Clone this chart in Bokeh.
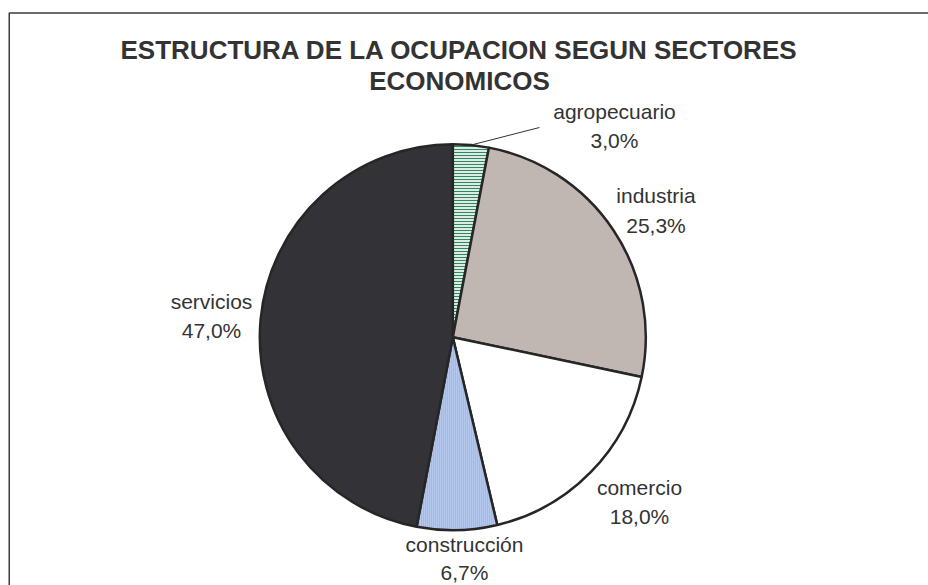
import math
from bokeh.plotting import figure
from bokeh.models import Range1d, ColumnDataSource
from bokeh.core.properties import value
from bokeh.embed import file_html
from bokeh.resources import INLINE

# ---- data ----
sectors = ["agropecuario", "industria", "comercio", "construcción", "servicios"]
shares = [3.0, 25.3, 18.0, 6.7, 47.0]
share_labels = ["3,0%", "25,3%", "18,0%", "6,7%", "47,0%"]
title_lines = ["ESTRUCTURA DE LA OCUPACION SEGUN SECTORES", "ECONOMICOS"]

# ---- styles ----
fills = ["#dcece4", "#c0b7b3", "#ffffff", "#b4c7ed", "#333337"]
hatches = ["horizontal_line", " ", " ", "vertical_line", " "]
hatch_colors = ["#1c7a52", "#000000", "#000000", "#90a7df", "#000000"]
hatch_scales = [3, 3, 3, 2, 3]

W, H = 928, 585
p = figure(width=W, height=H, output_backend="svg", toolbar_location=None,
           x_range=Range1d(0, W), y_range=Range1d(0, H), min_border=0)
p.axis.visible = False
p.grid.visible = False
p.outline_line_color = None
p.background_fill_color = "white"
p.border_fill_color = "white"

# frame of the chart area (left and top edges visible)
p.line([8.75, 8.75, W], [0, 572.5, 572.5], line_color="#3c3c3c", line_width=1.5)

cx, cy, r = 452.3, 248.3, 193

total = sum(shares)
starts, ends, mids = [], [], []
acc = 0.0
for s in shares:
    a0 = math.pi / 2 - 2 * math.pi * acc / total
    acc += s
    a1 = math.pi / 2 - 2 * math.pi * acc / total
    starts.append(a0)
    ends.append(a1)
    mids.append((a0 + a1) / 2)

src = ColumnDataSource(dict(start=starts, end=ends, fill=fills, hatch=hatches,
                            hcol=hatch_colors, hscale=hatch_scales, sector=sectors))
p.wedge(x=cx, y=cy, radius=r, start_angle="start", end_angle="end",
        direction="clock", source=src, fill_color="fill",
        hatch_pattern="hatch", hatch_color="hcol", hatch_scale="hscale", hatch_weight=0.9,
        line_color="#262626", line_width=2.5)

# leader line for the small slice
lx0 = cx + r * math.cos(mids[0])
ly0 = cy + r * math.sin(mids[0])
p.line([lx0, 539], [ly0, 458], line_color="#333333", line_width=1)

# label positions (center x, middle y of name line, middle y of value line)
label_x = [614, 655.5, 639, 464, 211]
label_y1 = [474.5, 390.5, 98.5, 41, 284.5]
label_y2 = [445.5, 360.5, 69.5, 13, 255.5]

for i in range(len(sectors)):
    p.text(x=[label_x[i]], y=[label_y1[i]], text=[sectors[i]],
           text_font=value("Liberation Sans"), text_font_size="21px",
           text_color="#333333", text_align="center", text_baseline="middle")
    p.text(x=[label_x[i]], y=[label_y2[i]], text=[share_labels[i]],
           text_font=value("Liberation Sans"), text_font_size="21px",
           text_color="#333333", text_align="center", text_baseline="middle")

for j, t in enumerate(title_lines):
    p.text(x=[459], y=[536 - 31 * j], text=[t],
           text_font=value("Liberation Sans"), text_font_size="26px",
           text_font_style="bold", text_color="#333333",
           text_align="center", text_baseline="middle")

open("out.html", "w").write(file_html(p, INLINE))
